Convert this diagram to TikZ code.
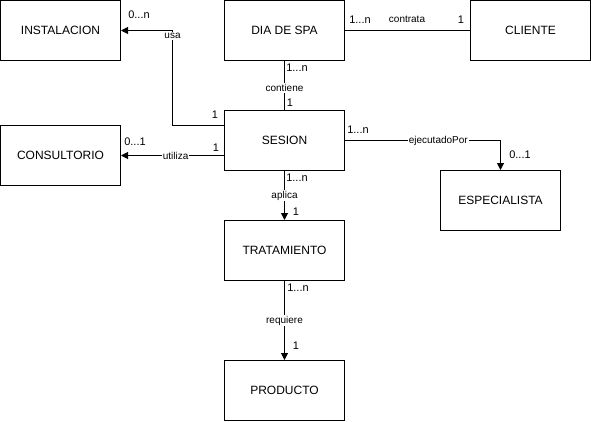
\documentclass[tikz,border=0pt]{standalone}
\usepackage{fontspec}
\setmainfont{Liberation Sans}
\usetikzlibrary{arrows.meta}
\begin{document}
\begin{tikzpicture}[x=1pt,y=-1pt,
  ent/.style={draw,line width=1pt,minimum width=120pt,minimum height=60pt,inner sep=0pt,font=\fontsize{12}{14}\selectfont},
  rel/.style={line width=1pt},
  arr/.style={rel,-{Triangle[length=7pt,width=7pt]}},
  lab/.style={fill=white,inner sep=1pt,font=\fontsize{10}{12}\selectfont},
  card/.style={inner sep=0pt,font=\fontsize{11}{13}\selectfont}]
\useasboundingbox[fill=white] (0,0) rectangle (591,421);
\node[ent] (inst) at (60.5,30.5) {INSTALACION};
\node[ent] (dia) at (284.5,30.5) {DIA DE SPA};
\node[ent] (cli) at (530.5,30.5) {CLIENTE};
\node[ent] (cons) at (60.5,155.5) {CONSULTORIO};
\node[ent] (ses) at (284.5,140.5) {SESION};
\node[ent] (esp) at (500.5,200.5) {ESPECIALISTA};
\node[ent] (tra) at (284.5,250.5) {TRATAMIENTO};
\node[ent] (pro) at (284.5,390.5) {PRODUCTO};
\coordinate (k1) at (172.5,125.5);
\coordinate (k2) at (172.5,30.5);
\coordinate (k3) at (500.5,140.5);
% usa
\draw[arr] (ses.west |- k1) -- (k1) -- (k2) node[lab,pos=0.94] {usa} -- (inst.east);
\node[card] (c1) at (139,15) {0...n};
\node[card] (c2) at (215,115) {1};
% utiliza
\draw[arr] (ses.west |- cons.east) -- node[lab,pos=0.47] {utiliza} (cons.east);
\node[card] (c3) at (135,142) {0...1};
\node[card] (c4) at (216,148) {1};
% contrata
\draw[rel] (dia.east) -- (cli.west);
\node[lab] (l1) at (407,19) {contrata};
\node[card] (c5) at (360,20) {1...n};
\node[card] (c6) at (461,20) {1};
% contiene
\draw[rel] (dia.south) -- node[lab,pos=0.55] {contiene} (ses.north);
\node[card] (c7) at (297,68) {1...n};
\node[card] (c8) at (290,103) {1};
% ejecutadoPor
\draw[arr] (ses.east) -- (k3) node[lab,pos=0.6] {ejecutadoPor} -- (esp.north);
\node[card] (c9) at (358,130) {1...n};
\node[card] (c10) at (520,155) {0...1};
% aplica
\draw[arr] (ses.south) -- node[lab,pos=0.5] {aplica} (tra.north);
\node[card] (c11) at (297,178) {1...n};
\node[card] (c12) at (296,212) {1};
% requiere
\draw[arr] (tra.south) -- node[lab,pos=0.5] {requiere} (pro.north);
\node[card] (c13) at (298,288) {1...n};
\node[card] (c14) at (296,346) {1};
\end{tikzpicture}
\end{document}
